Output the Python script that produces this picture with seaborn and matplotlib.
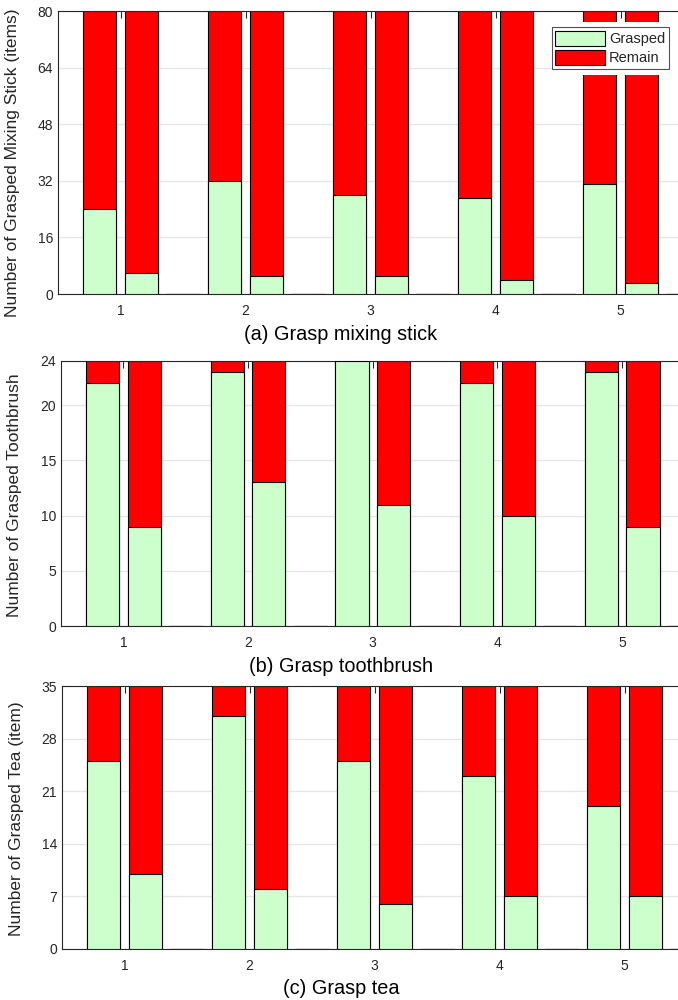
import numpy as np
import pandas as pd
import matplotlib
matplotlib.use('Agg')
import matplotlib.pyplot as plt
import seaborn as sns
from matplotlib.patches import Patch, Rectangle
from matplotlib.ticker import FixedLocator, MultipleLocator

# Data
trials = [1, 2, 3, 4, 5]

# (a) mixing stick
stick_total = 80
stick_first = [24, 32, 28, 27, 31]
stick_second = [6, 5, 5, 4, 3]

# (b) toothbrush
brush_total = 24
brush_first = [22, 23, 24, 22, 23]
brush_second = [9, 13, 11, 10, 9]

# (c) tea
tea_total = 35
tea_first = [25, 31, 25, 23, 19]
tea_second = [10, 8, 6, 7, 7]

GREEN = '#ccffcc'
RED = '#ff0000'
DARK = '#262626'


def make_frame(total, first, second):
    rows = []
    for t, a, b in zip(trials, first, second):
        rows.append({'pos': t - 1 / 6, 'grasped': a, 'total': total})
        rows.append({'pos': t + 1 / 6, 'grasped': b, 'total': total})
        # empty spacer slot between groups
        rows.append({'pos': t + 1 / 2, 'grasped': 0, 'total': 0})
    return pd.DataFrame(rows)


sns.set_style('white')
plt.rcParams['font.family'] = ['Liberation Sans', 'DejaVu Sans']

fig = plt.figure(figsize=(6.78, 10), dpi=100)
W, H = 678.0, 1000.0

panels = [
    # df, ymax, yticks, minor step, ylabel, label (x, y) px, caption,
    # (left, top, bottom, px per unit), caption y
    (make_frame(stick_total, stick_first, stick_second), 80, [0, 16, 32, 48, 64, 80], 3.2,
     'Number of Grasped Mixing Stick (items)', (20, 163), '(a) Grasp mixing stick',
     (58, 11, 294, 125), 334),
    (make_frame(brush_total, brush_first, brush_second), 24, [0, 5, 10, 15, 20, 24], 1,
     'Number of Grasped Toothbrush', (22, 495), '(b) Grasp toothbrush',
     (61, 361, 626, 124.7), 666),
    (make_frame(tea_total, tea_first, tea_second), 35, [0, 7, 14, 21, 28, 35], 1.4,
     'Number of Grasped Tea (item)', (24, 819), '(c) Grasp tea',
     (62, 686, 949, 125), 989),
]

for i, (df, ymax, yt, minor, ylab, (lx, ly), cap, (lpx, tpx, bpx, ppu), capy) in enumerate(panels):
    xmin, xmax = 0.5, 6.0
    ax = fig.add_axes([lpx / W, 1 - bpx / H, (xmax - xmin) * ppu / W, (bpx - tpx) / H])
    sns.barplot(data=df, x='pos', y='total', native_scale=True, orient='x', errorbar=None,
                color=RED, saturation=1, edgecolor='black', linewidth=0.8, ax=ax, zorder=2)
    sns.barplot(data=df, x='pos', y='grasped', native_scale=True, orient='x', errorbar=None,
                color=GREEN, saturation=1, edgecolor='black', linewidth=0.8, ax=ax, zorder=3)
    ax.set_xlim(xmin, xmax)
    ax.set_ylim(0, ymax)
    ax.xaxis.set_major_locator(FixedLocator(trials))
    ax.set_xticklabels([str(t) for t in trials])
    ax.yaxis.set_major_locator(FixedLocator(yt))
    ax.yaxis.set_minor_locator(MultipleLocator(minor))
    ax.tick_params(axis='both', which='both', direction='in', top=True, right=False,
                   labelsize=10, colors=DARK, labelcolor=DARK)
    ax.tick_params(axis='both', which='major', length=5, width=0.8)
    ax.tick_params(axis='y', which='minor', length=3, width=0.6)
    ax.tick_params(axis='x', which='minor', length=0)
    ax.tick_params(axis='x', pad=7)
    ax.yaxis.grid(True, color='#e6e6e6', linewidth=1.0)
    ax.xaxis.grid(False)
    ax.set_axisbelow(True)
    for s in ['left', 'top', 'bottom']:
        ax.spines[s].set_color(DARK)
        ax.spines[s].set_linewidth(0.8)
    ax.spines['right'].set_visible(False)
    ax.set_xlabel('')
    ax.set_ylabel(ylab, fontsize=12.5, color=DARK)
    ax.yaxis.set_label_coords(lx / W, 1 - ly / H, transform=fig.transFigure)
    fig.text(341 / W, 1 - capy / H, cap, ha='center', va='center', fontsize=14.3, color='black')

    if i == 0:
        # white background behind the legend, slightly larger than its frame
        ax.add_patch(Rectangle((553 / W, 1 - 75 / H), 125 / W, 53 / H, transform=fig.transFigure,
                               facecolor='white', edgecolor='none', zorder=5, clip_on=False))
        handles = [Patch(facecolor=GREEN, edgecolor='black', linewidth=0.8, label='Grasped'),
                   Patch(facecolor=RED, edgecolor='black', linewidth=0.8, label='Remain')]
        leg = ax.legend(handles=handles, loc='upper right', bbox_to_anchor=(669 / W, 1 - 27 / H),
                        bbox_transform=fig.transFigure, fontsize=10.5, frameon=True, fancybox=False,
                        handlelength=3.4, handleheight=1.2, handletextpad=0.3, borderpad=0.25,
                        labelspacing=0.25, borderaxespad=0)
        leg.get_frame().set_edgecolor(DARK)
        leg.get_frame().set_linewidth(0.8)
        leg.set_zorder(6)

fig.savefig('out.png', dpi=100)
